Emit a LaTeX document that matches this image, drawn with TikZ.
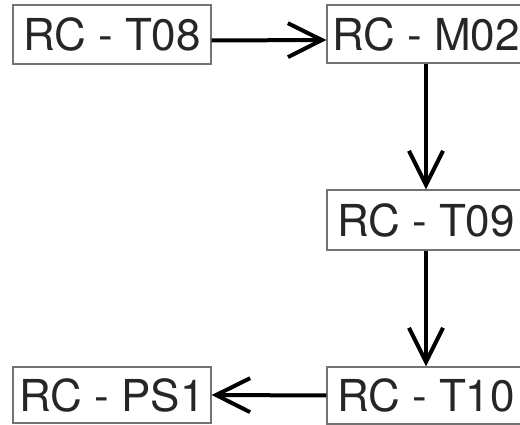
\documentclass[tikz,border=0pt]{standalone}
\usepackage{fontspec}
\setmainfont{TeX Gyre Heros}
\usetikzlibrary{arrows.meta}
\begin{document}
\begin{tikzpicture}[x=1pt,y=1pt,
  box/.style={draw=black!55, line width=1.3pt, minimum width=198pt, minimum height=58pt, inner sep=0pt, font=\fontsize{44}{44}\selectfont, text=black!85},
  conn/.style={line width=4pt, -{Straight Barb[length=34pt,width=34pt,line width=4pt]}}]
\clip (0,0) rectangle (520,425);
\fill[white] (0,0) rectangle (520,425);
\node[box, minimum height=59pt] (t08) at (112,390.5) {RC - T08};
\node[box] (m02) at (426,391) {RC - M02};
\node[box, minimum height=60pt] (t09) at (426,205) {RC - T09};
\node[box, minimum height=57pt] (t10) at (426,29.5) {RC - T10};
\node[box, minimum height=56pt] (ps1) at (112,30) {RC - PS1};
\draw[conn] ([yshift=-6pt]t08.east) -- ([yshift=-6pt]m02.west);
\draw[conn] (m02.south) -- (t09.north);
\draw[conn] (t09.south) -- (t10.north);
\draw[conn] (t10.west) -- (ps1.east);
\end{tikzpicture}
\end{document}
